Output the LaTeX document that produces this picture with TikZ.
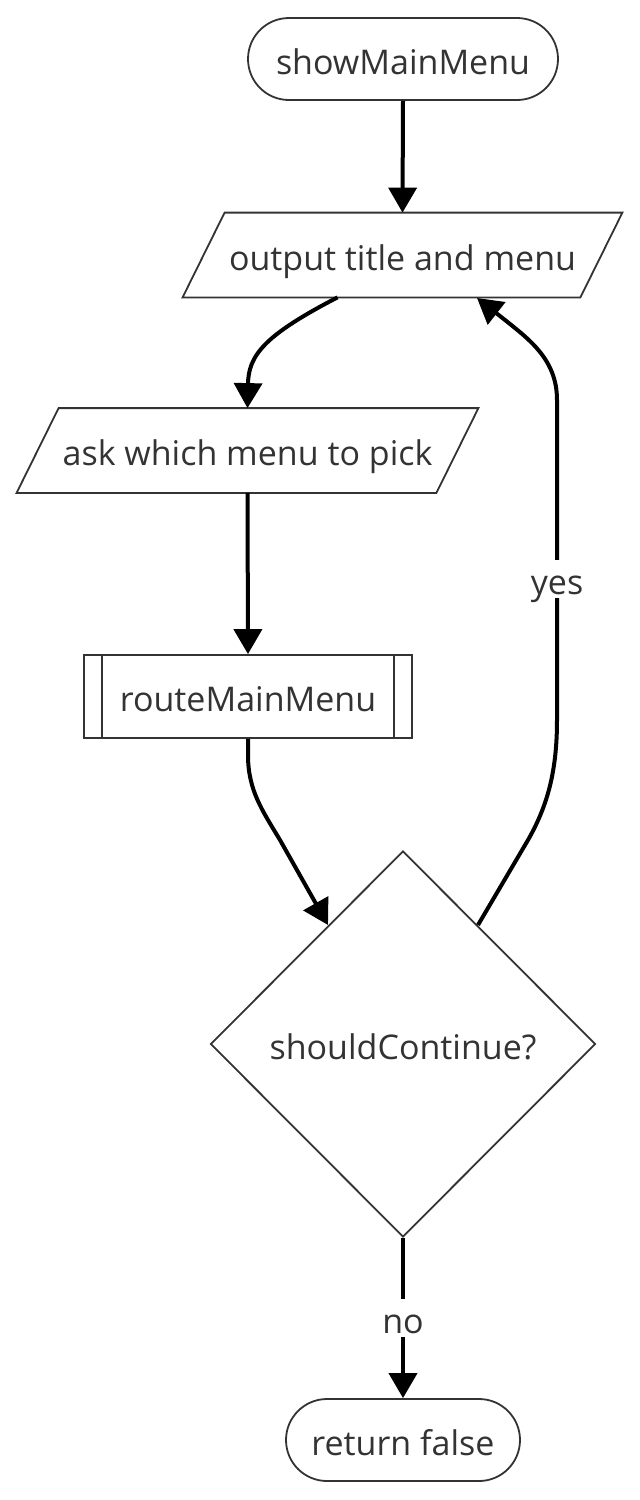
\documentclass[tikz,border=0pt]{standalone}
\usepackage{fontspec}
\setmainfont{Open Sans}
\usetikzlibrary{shapes.geometric,arrows.meta,calc}
\definecolor{ink}{HTML}{333333}
\begin{document}
\begin{tikzpicture}[x=0.5pt,y=-0.5pt,
  every node/.style={font=\fontsize{17}{20}\selectfont, text=ink, text height=15pt, text depth=0pt},
  shapeline/.style={draw=ink, line width=0.9pt},
  term/.style={shapeline, rounded corners=20.5pt, minimum width=155pt, minimum height=41pt, inner sep=0pt},
  iobody/.style={rectangle, minimum height=42pt, inner sep=0pt},
  sub/.style={shapeline, rectangle, minimum width=164pt, minimum height=41.5pt, inner sep=0pt},
  decision/.style={shapeline, diamond, aspect=1, minimum width=192.5pt, minimum height=193pt, inner sep=0pt},
  conn/.style={line width=2pt, black, -{Triangle[length=12.5pt,width=14pt]}},
  lbl/.style={fill=white, inner sep=2pt}
]
\useasboundingbox (0,0) rectangle (640,1500);

\node[term] (start) at (403,59) {showMainMenu};
\node[iobody, minimum width=219.5pt] (out) at (402.5,255) {output title and menu};
\draw[shapeline] (out.south west) -- ($(out.north west)+(42,0)$) -- (out.north east) -- ($(out.south east)+(-42,0)$) -- cycle;
\node[iobody, minimum width=230.5pt] (ask) at (247.5,450.5) {ask which menu to pick};
\draw[shapeline] (ask.south west) -- ($(ask.north west)+(42,0)$) -- (ask.north east) -- ($(ask.south east)+(-42,0)$) -- cycle;
\node[sub] (route) at (248,696.5) {routeMainMenu};
\draw[shapeline] ($(route.north west)+(19,0)$) -- ($(route.south west)+(19,0)$);
\draw[shapeline] ($(route.north east)+(-19,0)$) -- ($(route.south east)+(-19,0)$);
\node[decision] (dec) at (403,1044) {shouldContinue?};
\node[term, minimum width=117pt] (ret) at (403,1440) {return false};

\draw[conn] (start.south) -- (out.north);
\draw[conn] ($(out.south)+(-65,0)$) .. controls (265,335) and (248,355) .. (248,385) -- (ask.north);
\draw[conn] (ask.south) -- (route.north);
\draw[conn] (route.south) -- (248,755) .. controls (248,790) and (262,810) .. (280,840) -- (328,925);
\draw[conn] (478,925) -- (528,840) .. controls (548,805) and (557,770) .. (557,720)
  -- node[lbl, pos=0.44] {yes} (557,400) .. controls (557,360) and (530,340) .. (505,320) -- (477,298);
\draw[conn] (dec.south) -- node[lbl] {no} (ret.north);
\end{tikzpicture}
\end{document}
